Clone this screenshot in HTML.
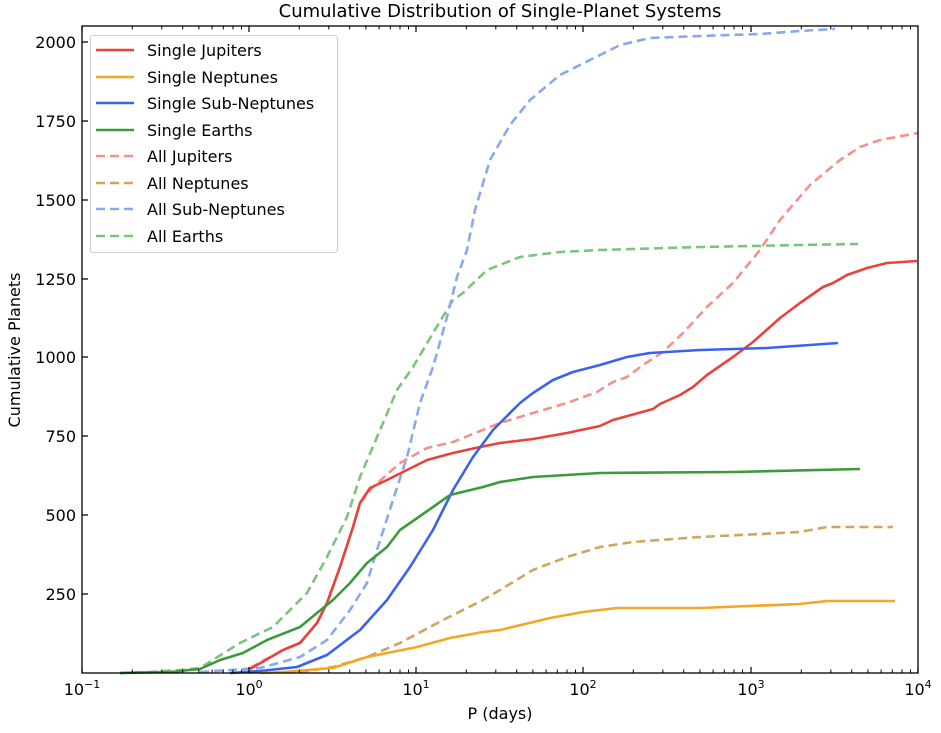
<!DOCTYPE html>
<html><head><meta charset="utf-8"><style>
body{margin:0;background:#fff}
svg{display:block;font-family:"DejaVu Sans","Liberation Sans",sans-serif}
</style></head><body>
<svg width="941" height="733" viewBox="0 0 941 733">
<defs>
<g id="mt" stroke="#000" stroke-width="1">
<path d="M50.3 673v-3.5M79.8 673v-3.5M100.7 673v-3.5M116.9 673v-3.5M130.1 673v-3.5M141.3 673v-3.5M151 673v-3.5M159.5 673v-3.5"/>
<path d="M50.3 26v3.5M79.8 26v3.5M100.7 26v3.5M116.9 26v3.5M130.1 26v3.5M141.3 26v3.5M151 26v3.5M159.5 26v3.5"/>
</g>
</defs>
<text x="500" y="17" font-size="18" text-anchor="middle">Cumulative Distribution of Single-Planet Systems</text>
<g fill="none" stroke-width="2.6" stroke-linejoin="round">
<polyline stroke="#7cc47c" stroke-dasharray="9,5" points="120,673 150,672 180,670 200,668 240,643 273,627 307,593 327,557 347,517 360,477 380,430 397,390 413,367 433,333 453,300 463,293 487,270 520,257 560,252 600,250 700,247 800,245 858,244"/>
<polyline stroke="#8aa8f0" stroke-dasharray="9,5" points="200,672 260,668 300,657 327,640 350,610 367,583 377,550 393,500 407,457 420,403 433,367 447,317 457,277 467,250 475,210 490,160 510,125 530,100 560,75 590,60 620,45 650,38 700,36 760,34 800,31 835,29"/>
<polyline stroke="#f5918a" stroke-dasharray="9,5" points="250,668 283,650 300,643 317,623 327,603 340,567 353,527 360,503 373,487 400,463 427,448 453,442 500,423 533,413 567,403 597,392 613,382 627,377 643,365 663,352 683,333 707,307 733,283 760,250 780,220 810,185 840,160 860,147 880,140 918,133"/>
<polyline stroke="#cfa55f" stroke-dasharray="9,5" points="300,672 333,667 367,657 400,643 443,620 483,600 500,590 533,570 567,557 600,547 633,542 700,537 800,532 827,527 893,527"/>
<polyline stroke="#e8433a" points="250,669 283,650 300,643 317,623 327,603 340,567 353,527 360,503 370,488 387,480 407,470 427,460 453,453 480,447 500,443 533,439 567,433 600,426 613,420 653,409 660,404 680,395 693,387 707,375 733,357 753,342 780,318 800,303 823,287 833,283 847,275 867,268 887,263 917,261"/>
<polyline stroke="#f5a623" points="260,673 283,672 333,668 367,657 417,647 450,638 483,632 500,630 550,618 583,612 617,608 700,608 800,604 827,601 895,601"/>
<polyline stroke="#3a62f0" points="230,673 260,671 297,667 327,655 360,630 387,600 410,567 433,530 453,490 473,457 493,430 520,403 533,393 553,380 573,372 600,365 627,357 650,353 700,350 767,348 838,343"/>
<polyline stroke="#3b9b3b" points="120,673 170,672 200,669 220,660 243,653 267,640 300,627 317,613 333,600 350,583 367,563 387,547 400,530 433,507 450,495 483,487 500,482 533,477 600,473 733,472 860,469"/>
</g>
<rect x="82" y="26" width="836" height="647" fill="none" stroke="#000" stroke-width="1.3"/>
<g stroke="#000" stroke-width="1.2">
<path d="M82 673v-6M249 673v-6M416 673v-6M583 673v-6M751 673v-6M918 673v-6M82 26v6M249 26v6M416 26v6M583 26v6M751 26v6"/>
<path d="M82 594h6M82 515h6M82 436h6M82 357h6M82 279h6M82 200h6M82 121h6M82 42h6"/>
</g>
<use href="#mt" x="82"/><use href="#mt" x="249"/><use href="#mt" x="416"/><use href="#mt" x="583"/><use href="#mt" x="751"/>
<g font-size="16" text-anchor="end">
<text x="76" y="600">250</text><text x="76" y="521">500</text><text x="76" y="442">750</text><text x="76" y="363">1000</text><text x="76" y="285">1250</text><text x="76" y="206">1500</text><text x="76" y="127">1750</text><text x="76" y="48">2000</text>
</g>
<g font-size="16" text-anchor="middle">
<text x="82" y="695">10<tspan font-size="11" dy="-7">−1</tspan></text>
<text x="249" y="695">10<tspan font-size="11" dy="-7">0</tspan></text>
<text x="416" y="695">10<tspan font-size="11" dy="-7">1</tspan></text>
<text x="583" y="695">10<tspan font-size="11" dy="-7">2</tspan></text>
<text x="751" y="695">10<tspan font-size="11" dy="-7">3</tspan></text>
<text x="918" y="695">10<tspan font-size="11" dy="-7">4</tspan></text>
<text x="500" y="719">P (days)</text>
<text transform="translate(20,350) rotate(-90)">Cumulative Planets</text>
</g>
<rect x="90.5" y="35.5" width="247" height="217" rx="3" fill="#fff" fill-opacity="0.85" stroke="#ccc"/>
<g stroke-width="2.6">
<path d="M96 50h38" stroke="#e8433a"/><path d="M96 77h38" stroke="#f5a623"/><path d="M96 103h38" stroke="#3a62f0"/><path d="M96 130h38" stroke="#3b9b3b"/>
<g stroke-dasharray="9,5"><path d="M96 156h38" stroke="#f5918a"/><path d="M96 183h38" stroke="#cfa55f"/><path d="M96 209h38" stroke="#8aa8f0"/><path d="M96 236h38" stroke="#7cc47c"/></g>
</g>
<g font-size="16">
<text x="147" y="56">Single Jupiters</text><text x="147" y="83">Single Neptunes</text><text x="147" y="109">Single Sub-Neptunes</text><text x="147" y="136">Single Earths</text>
<text x="147" y="162">All Jupiters</text><text x="147" y="189">All Neptunes</text><text x="147" y="215">All Sub-Neptunes</text><text x="147" y="242">All Earths</text>
</g>
</svg>
</body></html>
